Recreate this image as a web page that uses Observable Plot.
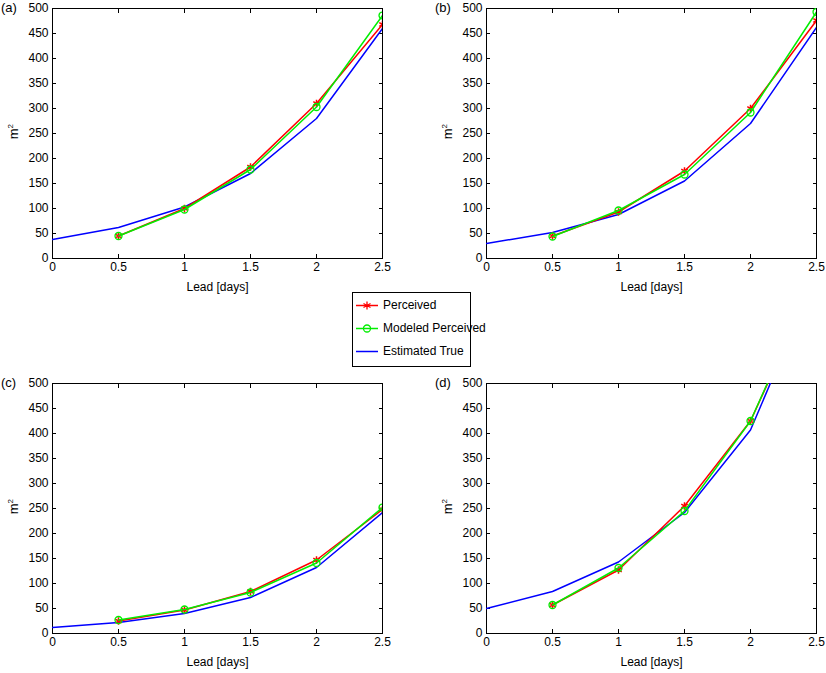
<!DOCTYPE html>
<html><head>
<script src="https://cdn.jsdelivr.net/npm/d3@7"></script>
<script src="https://cdn.jsdelivr.net/npm/@observablehq/plot@0.6"></script>
<style>
body{margin:0;background:#fff;font-family:"Liberation Sans",Arial,sans-serif;}
#c{position:relative;width:826px;height:673px;}
.p{position:absolute;}
.lab{position:absolute;font-size:13px;}
#leg{position:absolute;left:352px;top:292px;width:117px;height:73px;border:1px solid #000;background:#fff;font-size:12px;white-space:nowrap;}
#leg div{height:22px;display:flex;align-items:center;margin-top:1px}
#leg svg{flex:none}
</style></head><body><div id="c"></div>
<script>
const leads=[0.5,1,1.5,2,2.5];
const trueLeads=[0,0.5,1,1.5,2,2.5];
const panels=[
 {id:"(a)",perc:[45,100,183,310,468],mod:[45,98,178,303,486],tru:[38,62,103,170,280,460],left:0,top:0},
 {id:"(b)",perc:[45,93,175,300,476],mod:[44,96,168,292,493],tru:[30,52,88,155,270,462],left:434,top:0},
 {id:"(c)",perc:[25,47,84,147,248],mod:[27,48,82,141,252],tru:[12,22,40,72,132,242],left:0,top:375},
 {id:"(d)",perc:[57,127,255,425,713],mod:[57,131,245,425,720],tru:[50,84,143,242,407,717],left:434,top:375}
];
const xTicks=[0,0.5,1,1.5,2,2.5];
const yTicks=d3.range(0,501,50);
const c=document.getElementById("c");
for(const p of panels){
  const P=leads.map((x,i)=>({x,y:p.perc[i]}));
  const M=leads.map((x,i)=>({x,y:p.mod[i]}));
  const T=trueLeads.map((x,i)=>({x,y:p.tru[i]}));
  const svg=Plot.plot({
    width:392,height:300,marginLeft:52,marginTop:8,marginRight:10,marginBottom:42,
    style:{fontFamily:"Liberation Sans, Arial, sans-serif",fontSize:"12px",color:"#000",overflow:"visible"},
    x:{domain:[0,2.5]},
    y:{domain:[0,500]},
    marks:[
      Plot.frame({stroke:"#000"}),
      Plot.axisX({ticks:xTicks,anchor:"top",tickSize:-4,tickFormat:()=>"",label:null}),
      Plot.axisY({ticks:yTicks,anchor:"right",tickSize:-4,tickFormat:()=>"",label:null}),
      Plot.axisX({ticks:xTicks,tickSize:-4,tickPadding:8,tickFormat:d=>String(d),label:"Lead [days]",labelAnchor:"center",labelArrow:"none",fontSize:12,labelOffset:32}),
      Plot.axisY({ticks:yTicks,tickSize:-4,tickPadding:8,label:null,fontSize:12}),
      Plot.line(T,{x:"x",y:"y",stroke:"#0000ff",strokeWidth:1.5,clip:true}),
      Plot.line(P,{x:"x",y:"y",stroke:"#ff0000",strokeWidth:1.5,clip:true}),
      Plot.dot(P,{x:"x",y:"y",symbol:"asterisk",stroke:"#ff0000",r:3.5,clip:true}),
      Plot.line(M,{x:"x",y:"y",stroke:"#00ee00",strokeWidth:1.5,clip:true}),
      Plot.dot(M,{x:"x",y:"y",symbol:"circle",stroke:"#00ee00",fill:"none",r:3.5,strokeWidth:1.3,clip:true})
    ]
  });
  const d=document.createElement("div");d.className="p";d.style.left=p.left+"px";d.style.top=p.top+"px";
  d.appendChild(svg);c.appendChild(d);
  const l=document.createElement("div");l.className="lab";l.textContent=p.id;
  l.style.left=(p.left+1)+"px";l.style.top=(p.top+0)+"px";c.appendChild(l);
  const m=document.createElement("div");m.className="lab";m.innerHTML="m<sup style='font-size:8px'>2</sup>";
  m.style.left=(p.left+6)+"px";m.style.top=(p.top+124)+"px";m.style.transform="rotate(-90deg)";c.appendChild(m);
}
const leg=document.createElement("div");leg.id="leg";
const items=[["Perceived","#ff0000","star"],["Modeled Perceived","#00ee00","circ"],["Estimated True","#0000ff",""]];
for(const [t,col,s] of items){
  const r=document.createElement("div");
  let mk="";
  if(s==="star")mk=`<path d="M14,7.5l0,-4M14,7.5l3.5,-2M14,7.5l3.5,2M14,7.5l0,4M14,7.5l-3.5,2M14,7.5l-3.5,-2" stroke="${col}" stroke-width="1.3"/>`;
  if(s==="circ")mk=`<circle cx="14" cy="7.5" r="3.5" stroke="${col}" fill="none" stroke-width="1.3"/>`;
  r.innerHTML=`<svg width="30" height="15"><line x1="3" x2="25" y1="7.5" y2="7.5" stroke="${col}" stroke-width="1.5"/>${mk}</svg><span>${t}</span>`;
  leg.appendChild(r);
}
c.appendChild(leg);
</script></body></html>
